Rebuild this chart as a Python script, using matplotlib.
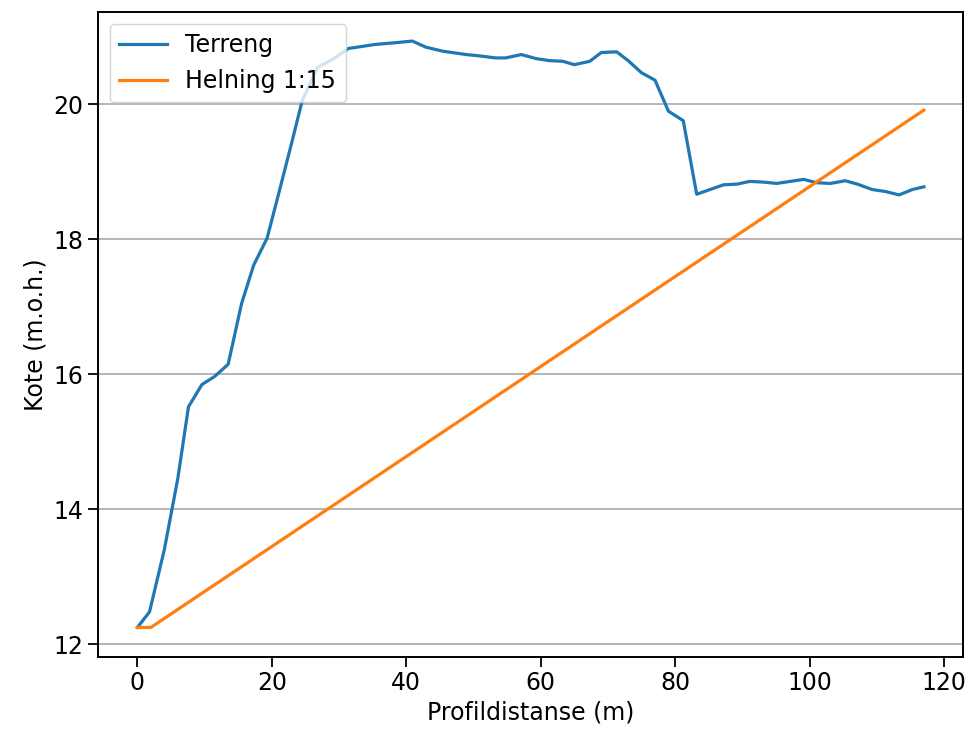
import numpy as np
import matplotlib.pyplot as plt

#### data ####
terreng_x = [0, 1.8, 4, 6, 7.6, 9.6, 11.5, 13.5, 15.5, 17.3, 19.3, 21.2, 23, 24.5, 26.8,
             28.9, 31.4, 35.4, 38.9, 40.9, 42.9, 45.4, 48.9, 50.9, 53.3, 54.8, 57.1,
             59.3, 61.3, 63.3, 65.0, 67.3, 69.0, 71.3, 73.0, 75.0, 77.0, 79.0, 81.2,
             83.2, 87.2, 89.2, 91.1, 93.1, 95.1, 99.1, 101.1, 103.1, 105.3, 107.1,
             109.3, 111.3, 113.3, 115.3, 117.0]
terreng_y = [12.25, 12.48, 13.4, 14.45, 15.52, 15.85, 15.97, 16.15, 17.05, 17.62, 18.02,
             18.75, 19.45, 20.05, 20.55, 20.66, 20.83, 20.89, 20.92, 20.94, 20.85, 20.79,
             20.74, 20.72, 20.69, 20.69, 20.74, 20.68, 20.65, 20.64, 20.59, 20.64, 20.77,
             20.78, 20.65, 20.47, 20.36, 19.90, 19.76, 18.67, 18.81, 18.82, 18.86, 18.85,
             18.83, 18.89, 18.84, 18.83, 18.87, 18.82, 18.74, 18.71, 18.66, 18.74, 18.78]

helning_x = [0, 2, 117]
helning_y = [12.25, 12.25, 12.25 + (117 - 2) / 15]
########################################

fs = 17

fig = plt.figure(figsize=(9.71, 7.33), dpi=100)
ax = fig.add_axes([0.101, 0.104, 0.891, 0.880])

ax.plot(terreng_x, terreng_y, label='Terreng', linewidth=2.3)
ax.plot(helning_x, helning_y, label='Helning 1:15', linewidth=2.3)

ax.set_yticks([12, 14, 16, 18, 20])
ax.set_xticks([0, 20, 40, 60, 80, 100, 120])
ax.grid(True, axis='y', color='#b0b0b0', linewidth=1.3)
ax.tick_params(labelsize=fs, length=7, width=1.3)
for s in ax.spines.values():
    s.set_linewidth(1.4)

plt.xlabel('Profildistanse (m)', fontsize=fs)
plt.ylabel('Kote (m.o.h.)', fontsize=fs)
plt.legend(loc='upper left', fontsize=fs)

plt.savefig('out.png', dpi=100)
